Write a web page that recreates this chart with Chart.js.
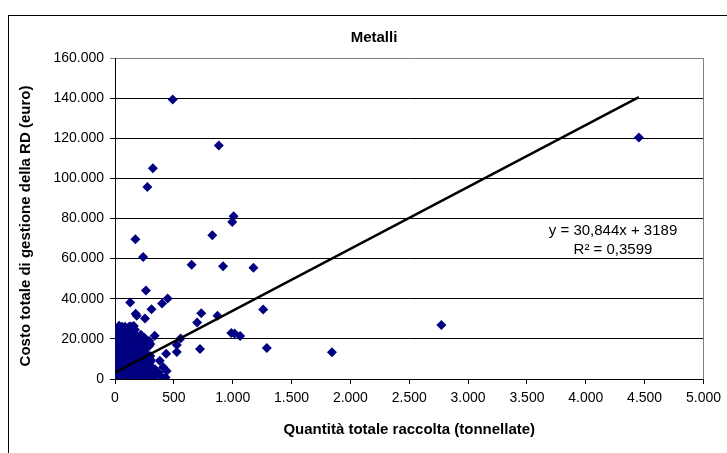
<!DOCTYPE html>
<html>
<head>
<meta charset="utf-8">
<script src="https://cdn.jsdelivr.net/npm/chart.js@4/dist/chart.umd.min.js"></script>
<style>
  html, body { margin: 0; padding: 0; background: #fff; }
  #wrap { width: 727px; height: 453px; position: relative; }
</style>
</head>
<body>
<div id="wrap"><canvas id="chart"></canvas></div>
<script>
// Quantità totale raccolta (t) / Costo totale di gestione (euro), per comune
const quantita = [
  490, 882, 4451, 322, 275, 1008, 996, 173, 827, 239, 651, 918, 1176, 263, 447, 400,
  129, 1259, 310, 733, 176, 185, 871, 698, 255, 2773, 133, 160, 337, 557, 988, 1016,
  1063, 525, 1290, 722, 1843, 525, 435, 439, 369, 290, 270, 300,
  5, 12, 20, 8, 25, 35, 15, 40, 50, 30, 10, 45, 60, 70, 55, 20, 80, 35, 65, 90,
  15, 50, 75, 100, 25, 60, 85, 110, 40, 70, 95, 120, 30, 55, 80, 105, 45, 75, 100, 130,
  60, 120, 120, 150, 180, 200, 230, 250, 270, 290, 310, 330, 350, 160, 190, 210, 240, 140,
  170, 200, 230, 260, 150, 180, 210, 240, 270, 290, 160, 190, 220, 250, 300, 140, 170, 110,
  130, 95, 85, 65, 105, 125, 145, 165, 185, 215, 245, 275, 305, 320, 300, 280, 260, 225,
  195, 135, 115, 155, 175, 205, 235, 265, 125, 105, 90, 95, 70, 50, 20, 10, 5, 5,
  3, 8, 25, 35, 85, 150, 2, 4, 2, 3, 6, 4, 18, 28, 42, 58, 72, 88, 102, 118,
  12, 22, 32, 48, 62, 78, 92, 108, 16, 26, 38, 52, 66, 82, 98, 114, 138, 148,
  10, 24, 36, 44, 68, 76, 94, 112, 128, 142, 156, 168, 182, 198, 212, 228, 244, 258,
  355, 380, 395, 340, 365, 410, 430, 285, 315, 345
];
const costo = [
  139300, 116400, 120400, 105100, 95700, 81100, 78300, 69600, 71600, 60800, 56900, 56200,
  55500, 44100, 40100, 37600, 38100, 34700, 34800, 32800, 32500, 31500, 31500, 28200,
  30200, 26900, 26200, 26400, 21600, 20200, 22900, 22700, 21400, 16900, 15400, 14900,
  13300, 13400, 12600, 4000, 3300, 19000, 18500, 17500,
  500, 1500, 800, 3000, 2500, 1200, 4500, 4000, 2000, 6000, 7000, 7500, 5500, 3000, 9000,
  9500, 8000, 11000, 11500, 10000, 12500, 13500, 14000, 12500, 15500, 16500, 17000, 15500,
  18500, 19500, 20000, 18500, 21000, 22000, 22500, 21500, 24000, 25000, 24500, 23000,
  26000, 26000, 1000, 2500, 500, 3500, 1500, 4500, 800, 2000, 6000, 1200, 3500, 6500,
  8500, 6000, 9000, 9500, 11500, 12000, 11000, 13000, 13500, 16000, 15000, 17000, 19000,
  16500, 19000, 21000, 22000, 20500, 8500, 23500, 24500, 5000,
  7000, 4000, 1500, 500, 3000, 4000, 500, 3000, 4500, 2000, 6500, 8500, 9500, 3000,
  11500, 5500, 2500, 7500, 13500, 17000, 20500, 21500, 18000, 19500, 14500, 15500, 11000,
  8000, 13000, 18000, 22500, 20500, 17500, 14000, 10000, 5500,
  19000, 22000, 24500, 26500, 26000, 26000, 2000, 8000, 12000, 16000, 20500, 24000,
  600, 1800, 900, 2200, 400, 1300, 700, 2100, 5200, 3800, 6800, 4200, 7200, 5800, 6200,
  4800, 10500, 8800, 12200, 9800, 13200, 10800, 14800, 9200, 11800, 7800,
  17800, 20200, 16200, 19200, 14200, 21800, 16800, 13800, 6200, 10200, 3900, 9300, 1700,
  6900, 10800, 3100, 7700, 12300, 2600, 9100, 1100, 4900, 2400, 5900, 800, 1600, 3400,
  4400, 12000, 8600, 900, 14500
];
// Lineare (Metalli): y = 30,844x + 3189, R² = 0,3599
const trendSlope = 30.844;
const trendIntercept = 3189;
const trendX = [0, 4451];
const xTicks = [0, 500, 1000, 1500, 2000, 2500, 3000, 3500, 4000, 4500, 5000];
const yTicks = [0, 20000, 40000, 60000, 80000, 100000, 120000, 140000, 160000];

const fmt = v => String(v).replace(/\B(?=(\d{3})+(?!\d))/g, '.');
const FONT = '"Liberation Sans", Arial, sans-serif';

const points = quantita.map((q, i) => ({ x: q, y: costo[i] }));
const trend = trendX.map(x => ({ x: x, y: trendSlope * x + trendIntercept }));

const decor = {
  id: 'decor',
  beforeDraw(chart) {
    const ctx = chart.ctx;
    ctx.save();
    ctx.fillStyle = '#fff';
    ctx.fillRect(0, 0, chart.width, chart.height);
    ctx.strokeStyle = '#000';
    ctx.lineWidth = 1;
    ctx.strokeRect(8.5, 15.5, 900, 600);
    ctx.restore();
  },
  afterDraw(chart) {
    const ctx = chart.ctx;
    const a = chart.chartArea;
    ctx.save();
    // bordo destro dell'area del tracciato
    ctx.strokeStyle = '#808080';
    ctx.beginPath();
    ctx.moveTo(Math.round(a.right) + 0.5, a.top);
    ctx.lineTo(Math.round(a.right) + 0.5, a.bottom);
    ctx.stroke();

    ctx.fillStyle = '#000';
    ctx.textAlign = 'center';
    ctx.textBaseline = 'middle';
    ctx.font = 'bold 15px ' + FONT;
    ctx.fillText('Metalli', 374, 38);
    ctx.fillText('Quantità totale raccolta (tonnellate)', (a.left + a.right) / 2, 430);
    ctx.save();
    ctx.translate(26, 226);
    ctx.rotate(-Math.PI / 2);
    ctx.fillText('Costo totale di gestione della RD (euro)', 0, 0);
    ctx.restore();

    ctx.font = '15px ' + FONT;
    ctx.fillText('y = 30,844x + 3189', 613, 231);
    ctx.fillText('R² = 0,3599', 613, 250);
    ctx.restore();
  }
};

new Chart(document.getElementById('chart'), {
  data: {
    datasets: [
      {
        type: 'scatter',
        label: 'Metalli',
        data: points,
        backgroundColor: '#000080',
        borderColor: '#000080',
        borderWidth: 0,
        pointStyle: 'rectRot',
        pointRadius: 5,
        order: 2
      },
      {
        type: 'line',
        label: 'Lineare (Metalli)',
        data: trend,
        borderColor: '#000',
        borderWidth: 2.5,
        pointRadius: 0,
        fill: false,
        order: 1
      }
    ]
  },
  options: {
    responsive: true,
    maintainAspectRatio: false,
    animation: false,
    layout: { padding: { left: 0, top: 58, right: 22, bottom: 0 } },
    plugins: {
      legend: { display: false },
      tooltip: { enabled: false },
      title: { display: false }
    },
    scales: {
      x: {
        type: 'linear',
        min: 0,
        max: 5000,
        afterFit(scale) { scale.height = 74; },
        afterBuildTicks(scale) { scale.ticks = xTicks.map(v => ({ value: v })); },
        ticks: {
          callback: v => fmt(v),
          color: '#000',
          font: { family: FONT, size: 14 },
          padding: 6,
          maxRotation: 0,
          autoSkip: false
        },
        grid: { drawOnChartArea: false, drawTicks: true, tickLength: 5, color: '#000' },
        border: { color: '#000' }
      },
      y: {
        type: 'linear',
        min: 0,
        max: 160000,
        afterFit(scale) { scale.width = 115; },
        afterBuildTicks(scale) { scale.ticks = yTicks.map(v => ({ value: v })); },
        ticks: {
          callback: v => fmt(v),
          color: '#000',
          font: { family: FONT, size: 14 },
          padding: 6,
          autoSkip: false
        },
        grid: {
          tickLength: 5,
          color: ctx => (ctx.tick && ctx.tick.value === 160000 ? '#808080' : '#000')
        },
        border: { color: '#000' }
      }
    }
  },
  plugins: [decor]
});
</script>
</body>
</html>
